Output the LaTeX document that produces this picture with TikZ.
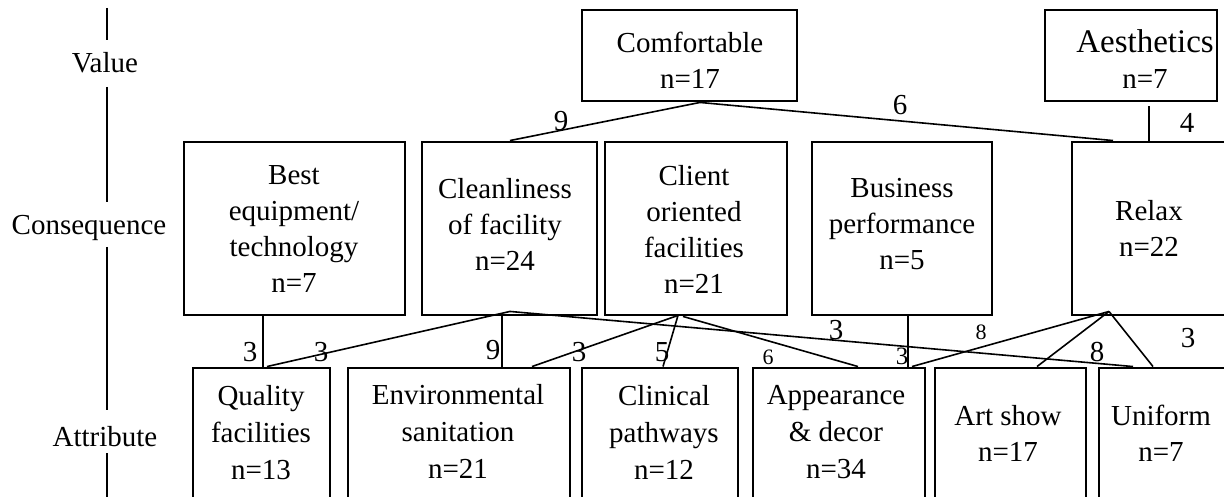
\documentclass[tikz,border=0pt]{standalone}
\usepackage{fontspec}
\setmainfont{Liberation Serif}
\usetikzlibrary{calc}
\begin{document}
\begin{tikzpicture}[x=1pt,y=-1pt,
  box/.style={draw, line width=2.9pt, inner sep=0pt},
  txt/.style={align=center, font=\fontsize{29}{36}\selectfont, inner sep=0pt},
  atxt/.style={align=center, font=\fontsize{29}{37}\selectfont, inner sep=0pt},
  lvl/.style={font=\fontsize{29}{36}\selectfont, inner sep=0pt},
  num/.style={font=\fontsize{29}{36}\selectfont, inner sep=0pt},
  snum/.style={font=\fontsize{22}{26}\selectfont, inner sep=0pt},
  mnum/.style={font=\fontsize{25}{30}\selectfont, inner sep=0pt},
  link/.style={line width=1.6pt},
  axisline/.style={line width=2.8pt}]
\useasboundingbox (0,0) rectangle (1224,497);
\clip (0,0) rectangle (1224,497);

% level axis
\node[lvl] (lvalue) at (105,65) {\strut Value};
\node[lvl] (lcons) at (89,227) {\strut Consequence};
\node[lvl] (lattr) at (105,439) {\strut Attribute};
\coordinate (a0) at (107,8);
\coordinate (a1) at (107,40);
\coordinate (a2) at (107,87);
\coordinate (a3) at (107,202);
\coordinate (a4) at (107,247);
\coordinate (a5) at (107,410);
\coordinate (a6) at (107,453);
\coordinate (a7) at (107,500);
\draw[axisline] (a0) -- (a1);
\draw[axisline] (a2) -- (a3);
\draw[axisline] (a4) -- (a5);
\draw[axisline] (a6) -- (a7);

% value boxes
\node[box, minimum width=215pt, minimum height=91pt] (comf) at (689.5,55.5) {};
\node[box, minimum width=172pt, minimum height=91pt] (aest) at (1131,55.5) {};
% consequence boxes
\node[box, minimum width=221pt, minimum height=173pt] (best) at (294.5,228.5) {};
\node[box, minimum width=175pt, minimum height=173pt] (clean) at (509.5,228.5) {};
\node[box, minimum width=182pt, minimum height=173pt] (client) at (696,228.5) {};
\node[box, minimum width=180pt, minimum height=173pt] (bus) at (902,228.5) {};
\node[box, minimum width=174pt, minimum height=173pt] (relax) at (1159,228.5) {};
% attribute boxes
\node[box, minimum width=137pt, minimum height=192pt] (qual) at (261.5,464) {};
\node[box, minimum width=222pt, minimum height=192pt] (env) at (459,464) {};
\node[box, minimum width=156pt, minimum height=192pt] (clin) at (660,464) {};
\node[box, minimum width=172pt, minimum height=192pt] (app) at (839,464) {};
\node[box, minimum width=151pt, minimum height=192pt] (art) at (1010.5,464) {};
\node[box, minimum width=147pt, minimum height=192pt] (unif) at (1172.5,464) {};

% texts
\node[txt] (comf-t) at (690,63.5) {\strut Comfortable\\\strut n=17};
\node[txt] (aest-t) at (1145,63) {\fontsize{33}{36}\selectfont\strut Aesthetics\\\fontsize{29}{36}\selectfont\strut n=7};
\node[txt] (best-t) at (294,231) {\strut Best\\\strut equipment/\\\strut technology\\\strut n=7};
\node[txt] (clean-t) at (505,227.5) {\strut Cleanliness\\\strut of facility\\\strut n=24};
\node[txt] (client-t) at (694,232.5) {\strut Client\\\strut oriented\\\strut facilities\\\strut n=21};
\node[txt] (bus-t) at (902,226.5) {\strut Business\\\strut performance\\\strut n=5};
\node[txt] (relax-t) at (1149,231.5) {\strut Relax\\\strut n=22};
\node[atxt] (qual-t) at (261,435) {\strut Quality\\\strut facilities\\\strut n=13};
\node[atxt] (env-t) at (458,434.5) {\strut Environmental\\\strut sanitation\\\strut n=21};
\node[atxt] (clin-t) at (664,435) {\strut Clinical\\\strut pathways\\\strut n=12};
\node[atxt] (app-t) at (836,434) {\strut Appearance\\\strut \&\ decor\\\strut n=34};
\node[txt] (art-t) at (1008,436.5) {\strut Art show\\\strut n=17};
\node[txt] (unif-t) at (1161,436) {\strut Uniform\\\strut n=7};

% connectors value -> consequence
\draw[link] ([xshift=10.5pt]comf.south) -- ([xshift=0.5pt]clean.north);
\draw[link] ([xshift=10.5pt]comf.south) -- ([xshift=-46pt]relax.north);
\draw[link] ([xshift=18pt,yshift=-4pt]aest.south) -- ([xshift=-10pt]relax.north);

% connectors consequence -> attribute
\draw[link] ([xshift=-31.5pt]best.south) -- ([xshift=1.5pt]qual.north);
\draw[link] ([xshift=0.5pt,yshift=5pt]clean.south) -- ([xshift=5.5pt]qual.north);
\draw[link] ([xshift=-7.5pt]clean.south) -- ([xshift=43pt]env.north);
\draw[link] ([xshift=0.5pt,yshift=5pt]clean.south) -- ([xshift=-39.5pt]unif.north);
\draw[link] ([xshift=-18pt,yshift=1pt]client.south) -- ([xshift=73pt]env.north);
\draw[link] ([xshift=-18pt,yshift=1pt]client.south) -- ([xshift=3pt]clin.north);
\draw[link] ([xshift=-13pt]client.south) -- ([xshift=19pt]app.north);
\draw[link] ([xshift=6pt]bus.south) -- ([xshift=69pt]app.north);
\draw[link] ([xshift=-50pt,yshift=5pt]relax.south) -- ([xshift=73pt]app.north);
\draw[link] ([xshift=-50pt,yshift=5pt]relax.south) -- ([xshift=26.5pt]art.north);
\draw[link] ([xshift=-50pt,yshift=5pt]relax.south) -- ([xshift=-19.5pt]unif.north);

% connector labels
\node[num] (w1) at (561,121) {9};
\node[num] (w2) at (900,105) {6};
\node[num] (w3) at (1187,123) {4};
\node[num] (w4) at (250,352) {3};
\node[num] (w5) at (321,352) {3};
\node[num] (w6) at (493,350) {9};
\node[num] (w7) at (579,352) {3};
\node[num] (w8) at (662,352) {5};
\node[snum] (w9) at (768,357) {6};
\node[num] (w10) at (836,330) {3};
\node[mnum] (w11) at (902,356) {3};
\node[snum] (w12) at (981,332) {8};
\node[num] (w13) at (1097,352) {8};
\node[num] (w14) at (1188,338) {3};
\end{tikzpicture}
\end{document}
